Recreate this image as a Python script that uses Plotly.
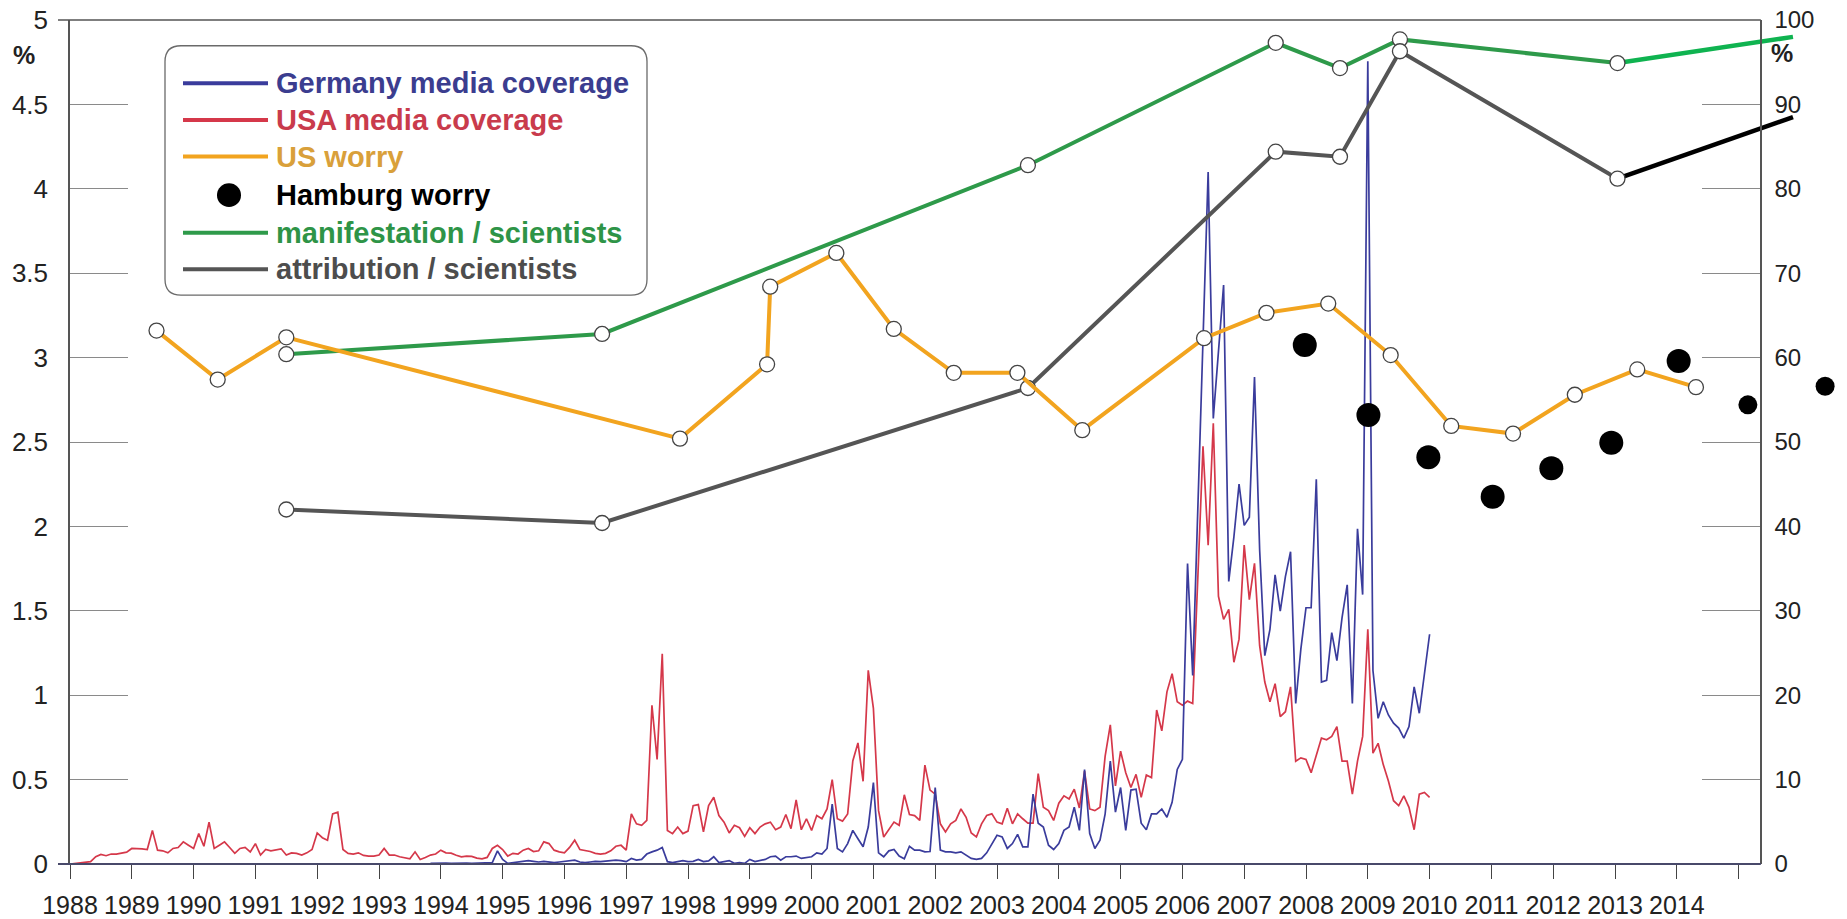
import plotly.graph_objects as go

# ---------------- data ----------------
year_ticks = list(range(1988, 2016))
year_labels = [str(y) for y in range(1988, 2015)] + [""]
left_ticks = [0, 0.5, 1, 1.5, 2, 2.5, 3, 3.5, 4, 4.5, 5]
left_labels = ["0", "0.5", "1", "1.5", "2", "2.5", "3", "3.5", "4", "4.5", "5"]
right_ticks = [0, 10, 20, 30, 40, 50, 60, 70, 80, 90, 100]

# monthly media coverage (% of articles), USA from January 1988
usa_start_year, usa_start_month = 1988, 1
usa_coverage = [
    0.0, 0.004, 0.008, 0.012, 0.014, 0.043, 0.057, 0.049, 0.059, 0.059, 0.063, 0.070,
    0.092, 0.092, 0.090, 0.086, 0.199, 0.082, 0.078, 0.066, 0.092, 0.098, 0.131, 0.111,
    0.092, 0.180, 0.105, 0.248, 0.092, 0.111, 0.131, 0.098, 0.063, 0.092, 0.098, 0.072,
    0.121, 0.053, 0.086, 0.078, 0.082, 0.090, 0.053, 0.066, 0.063, 0.053, 0.066, 0.086,
    0.184, 0.156, 0.141, 0.297, 0.307, 0.086, 0.063, 0.059, 0.066, 0.051, 0.047, 0.047,
    0.053, 0.092, 0.053, 0.053, 0.043, 0.039, 0.031, 0.072, 0.027, 0.039, 0.053, 0.059,
    0.082, 0.066, 0.064, 0.052, 0.042, 0.047, 0.045, 0.035, 0.031, 0.039, 0.092, 0.111,
    0.086, 0.047, 0.063, 0.059, 0.082, 0.092, 0.074, 0.078, 0.131, 0.121, 0.082, 0.072,
    0.066, 0.098, 0.141, 0.086, 0.082, 0.074, 0.063, 0.059, 0.063, 0.078, 0.105, 0.111,
    0.082, 0.297, 0.238, 0.229, 0.258, 0.940, 0.620, 1.245, 0.199, 0.180, 0.219, 0.180,
    0.195, 0.346, 0.352, 0.190, 0.346, 0.395, 0.287, 0.248, 0.184, 0.229, 0.215, 0.164,
    0.215, 0.180, 0.219, 0.238, 0.248, 0.203, 0.219, 0.293, 0.209, 0.379, 0.203, 0.268,
    0.199, 0.287, 0.268, 0.326, 0.500, 0.268, 0.254, 0.297, 0.610, 0.717, 0.490, 1.147,
    0.922, 0.316, 0.160, 0.203, 0.248, 0.229, 0.410, 0.293, 0.287, 0.258, 0.586, 0.438,
    0.414, 0.238, 0.190, 0.238, 0.258, 0.326, 0.277, 0.184, 0.160, 0.238, 0.287, 0.297,
    0.248, 0.238, 0.330, 0.238, 0.297, 0.268, 0.242, 0.242, 0.535, 0.336, 0.316, 0.258,
    0.360, 0.404, 0.385, 0.443, 0.332, 0.550, 0.326, 0.316, 0.336, 0.639, 0.824, 0.463,
    0.668, 0.541, 0.453, 0.531, 0.395, 0.527, 0.512, 0.912, 0.789, 1.020, 1.127, 0.961,
    0.941, 0.965, 0.951, 1.700, 2.475, 1.889, 2.611, 1.586, 1.449, 1.508, 1.195, 1.332,
    1.889, 1.566, 1.781, 1.293, 1.078, 0.961, 1.068, 0.873, 0.902, 1.049, 0.609, 0.629,
    0.619, 0.541, 0.648, 0.746, 0.736, 0.756, 0.814, 0.609, 0.609, 0.414, 0.609, 0.756,
    1.390, 0.657, 0.715, 0.589, 0.492, 0.375, 0.346, 0.404, 0.336, 0.203, 0.414, 0.424,
    0.395,
]

# monthly media coverage (% of articles), Germany from November 1993
germany_start_year, germany_start_month = 1993, 11
germany_coverage = [
    0.004, 0.006,
    0.008, 0.006, 0.004, 0.006, 0.004, 0.006, 0.004, 0.006, 0.004, 0.008, 0.008, 0.078,
    0.027, 0.004, 0.008, 0.012, 0.016, 0.020, 0.016, 0.012, 0.016, 0.014, 0.008, 0.012,
    0.016, 0.020, 0.023, 0.012, 0.008, 0.012, 0.016, 0.014, 0.018, 0.020, 0.023, 0.020,
    0.014, 0.033, 0.023, 0.027, 0.059, 0.072, 0.082, 0.098, 0.014, 0.008, 0.016, 0.020,
    0.014, 0.016, 0.027, 0.014, 0.018, 0.043, 0.008, 0.014, 0.020, 0.004, 0.008, 0.004,
    0.027, 0.014, 0.020, 0.027, 0.043, 0.047, 0.023, 0.043, 0.043, 0.047, 0.033, 0.039,
    0.043, 0.066, 0.059, 0.092, 0.355, 0.092, 0.072, 0.121, 0.199, 0.150, 0.102, 0.219,
    0.482, 0.066, 0.043, 0.078, 0.086, 0.047, 0.031, 0.105, 0.082, 0.082, 0.072, 0.074,
    0.453, 0.082, 0.072, 0.072, 0.066, 0.072, 0.053, 0.033, 0.027, 0.033, 0.066, 0.121,
    0.170, 0.160, 0.092, 0.121, 0.176, 0.102, 0.102, 0.414, 0.242, 0.219, 0.111, 0.086,
    0.121, 0.199, 0.219, 0.336, 0.199, 0.560, 0.180, 0.092, 0.141, 0.297, 0.610, 0.307,
    0.453, 0.199, 0.438, 0.443, 0.242, 0.203, 0.297, 0.297, 0.326, 0.277, 0.365, 0.560,
    0.620, 1.780, 1.117, 2.110, 3.100, 4.100, 2.640, 3.060, 3.430, 1.674, 1.938, 2.250,
    2.006, 2.055, 2.885, 1.860, 1.234, 1.390, 1.713, 1.498, 1.703, 1.850, 0.951, 1.273,
    1.518, 1.518, 2.279, 1.078, 1.088, 1.371, 1.205, 1.459, 1.654, 0.951, 1.986, 1.596,
    4.755, 1.146, 0.863, 0.961, 0.883, 0.834, 0.805, 0.746, 0.814, 1.049, 0.893, 1.127,
    1.361,
]

# survey results (%), right axis
us_worry_years = [1989.40, 1990.39, 1991.50, 1997.87, 1999.28, 1999.33, 2000.40, 2001.33,
                  2002.30, 2003.33, 2004.38, 2006.35, 2007.36, 2008.36, 2009.37, 2010.35,
                  2011.35, 2012.35, 2013.36, 2014.31]
us_worry = [63.2, 57.4, 62.4, 50.4, 59.2, 68.4, 72.4, 63.4, 58.2, 58.2, 51.4, 62.3, 65.3,
            66.4, 60.3, 51.9, 51.0, 55.6, 58.6, 56.5]

hamburg_years = [2007.98, 2009.01, 2009.98, 2011.02, 2011.97, 2012.94, 2014.03, 2015.15, 2016.40]
hamburg_worry = [61.5, 53.2, 48.2, 43.5, 46.9, 49.9, 59.6, 54.4, 56.6]

scientist_years = [1991.50, 1996.61, 2003.50, 2007.51, 2008.55, 2009.52, 2013.04]
manifestation = [60.4, 62.8, 82.8, 97.3, 94.3, 97.7, 94.9]
attribution = [42.0, 40.4, 56.4, 84.4, 83.8, 96.3, 81.2]
trend_years = [2013.04, 2015.88]
manifestation_trend = [94.9, 98.0]
attribution_trend = [81.2, 88.5]

# ---------------- geometry ----------------
W, H = 1847, 919
M_L, M_R, M_T, M_B = 70, 0, 20, 46
PLOT_W = W - M_L - M_R
PLOT_H = H - M_T - M_B
PX_PER_YEAR = 61.8
X_MIN = 1988
X_MAX = X_MIN + PLOT_W / PX_PER_YEAR
RIGHT_AXIS_YEAR = 2015.36
RIGHT_AXIS_POS = (RIGHT_AXIS_YEAR - X_MIN) / (X_MAX - X_MIN)


def px_x(px):
    return (px - M_L) / PLOT_W


def px_y(py):
    return (H - M_B - py) / PLOT_H


def month_axis(start_year, start_month, n):
    return [start_year + (start_month - 1 + k) / 12 for k in range(n)]


usa_x = month_axis(usa_start_year, usa_start_month, len(usa_coverage))
germany_x = month_axis(germany_start_year, germany_start_month, len(germany_coverage))

BLUE = "#3a3c9c"
RED = "#d5384a"
ORANGE = "#f2a41f"
GREEN = "#2e9a4a"
GREEN_BRIGHT = "#0fb350"
GREY = "#555555"
FONT = "Liberation Sans, Arial, sans-serif"

open_marker = dict(symbol="circle", size=15, color="white", line=dict(color="#444444", width=1.3))

fig = go.Figure()

# media coverage (left axis)
fig.add_trace(go.Scatter(x=usa_x, y=usa_coverage, mode="lines", name="USA media coverage",
                         line=dict(color=RED, width=1.7), yaxis="y"))
fig.add_trace(go.Scatter(x=germany_x, y=germany_coverage, mode="lines", name="Germany media coverage",
                         line=dict(color=BLUE, width=1.7), yaxis="y"))

# survey series (right axis)
fig.add_trace(go.Scatter(x=trend_years, y=manifestation_trend, mode="lines",
                         line=dict(color=GREEN_BRIGHT, width=4.5), yaxis="y2"))
fig.add_trace(go.Scatter(x=trend_years, y=attribution_trend, mode="lines",
                         line=dict(color="black", width=4.5), yaxis="y2"))
fig.add_trace(go.Scatter(x=scientist_years, y=manifestation, mode="lines+markers",
                         name="manifestation / scientists",
                         line=dict(color=GREEN, width=4), marker=open_marker, yaxis="y2"))
fig.add_trace(go.Scatter(x=scientist_years, y=attribution, mode="lines+markers",
                         name="attribution / scientists",
                         line=dict(color=GREY, width=4), marker=open_marker, yaxis="y2"))
fig.add_trace(go.Scatter(x=us_worry_years, y=us_worry, mode="lines+markers", name="US worry",
                         line=dict(color=ORANGE, width=4), marker=open_marker, yaxis="y2"))
fig.add_trace(go.Scatter(x=hamburg_years, y=hamburg_worry, mode="markers", name="Hamburg worry",
                         marker=dict(color="black", opacity=1, size=[24] * 7 + [19, 19],
                                     line=dict(width=0)),
                         cliponaxis=False, yaxis="y2"))

# ---------------- frame lines ----------------
shapes = [
    dict(type="line", xref="paper", yref="paper", x0=px_x(58), x1=RIGHT_AXIS_POS, y0=0, y1=0,
         line=dict(color="#48496a", width=2), layer="above"),
    dict(type="line", xref="paper", yref="paper", x0=px_x(58), x1=RIGHT_AXIS_POS, y0=1, y1=1,
         line=dict(color="#555555", width=1.5), layer="above"),
]

# ---------------- legend box ----------------
bx0, bx1 = px_x(165), px_x(647)
by0, by1 = px_y(298), px_y(46)
rx, ry = 16 / PLOT_W, 16 / PLOT_H
box_path = (f"M {bx0 + rx},{by1} L {bx1 - rx},{by1} Q {bx1},{by1} {bx1},{by1 - ry} "
            f"L {bx1},{by0 + ry} Q {bx1},{by0} {bx1 - rx},{by0} L {bx0 + rx},{by0} "
            f"Q {bx0},{by0} {bx0},{by0 + ry} L {bx0},{by1 - ry} Q {bx0},{by1} {bx0 + rx},{by1} Z")
shapes.append(dict(type="path", xref="paper", yref="paper", path=box_path,
                   line=dict(color="#6a6a6a", width=1.3), fillcolor="rgba(0,0,0,0)"))

legend_rows = [
    ("Germany media coverage", "#3b3d8f", "line", BLUE),
    ("USA media coverage", "#c93b4c", "line", RED),
    ("US worry", "#d9a03a", "line", ORANGE),
    ("Hamburg worry", "#000000", "dot", "black"),
    ("manifestation / scientists", "#2e9447", "line", GREEN),
    ("attribution / scientists", "#4d4d4d", "line", GREY),
]
row_y = [84, 121, 158, 197, 235, 272]
annotations = []
for (label, tcolor, kind, mcolor), ry_px in zip(legend_rows, row_y):
    if kind == "line":
        shapes.append(dict(type="line", xref="paper", yref="paper",
                           x0=px_x(183), x1=px_x(268), y0=px_y(ry_px), y1=px_y(ry_px),
                           line=dict(color=mcolor, width=4)))
    else:
        shapes.append(dict(type="circle", xref="paper", yref="paper",
                           x0=px_x(229 - 12), x1=px_x(229 + 12),
                           y0=px_y(ry_px + 12), y1=px_y(ry_px - 12),
                           fillcolor=mcolor, line=dict(color=mcolor, width=0)))
    annotations.append(dict(xref="paper", yref="paper", x=px_x(274), y=px_y(ry_px),
                            xanchor="left", yanchor="middle", showarrow=False, text=label,
                            font=dict(family=FONT, size=29, color=tcolor, weight="bold")))

# unit labels
annotations.append(dict(xref="paper", yref="paper", x=px_x(24), y=px_y(55), showarrow=False,
                        text="%", xanchor="center", yanchor="middle",
                        font=dict(family=FONT, size=25, color="#222222", weight="bold")))
annotations.append(dict(xref="paper", yref="paper", x=px_x(1782), y=px_y(53), showarrow=False,
                        text="%", xanchor="center", yanchor="middle",
                        font=dict(family=FONT, size=25, color="#222222", weight="bold")))

fig.update_layout(
    width=W, height=H,
    margin=dict(l=M_L, r=M_R, t=M_T, b=M_B),
    paper_bgcolor="white", plot_bgcolor="white",
    showlegend=False,
    shapes=shapes,
    annotations=annotations,
    xaxis=dict(
        range=[X_MIN, X_MAX], domain=[0, 1],
        tickmode="array", tickvals=year_ticks, ticktext=year_labels,
        ticks="outside", ticklen=14, tickwidth=1.3, tickcolor="#444444",
        tickangle=0, showline=False, showgrid=False, zeroline=False,
        ticklabelstandoff=5,
        tickfont=dict(family=FONT, size=25, color="#222222"),
    ),
    yaxis=dict(
        range=[0, 5], tickmode="array", tickvals=left_ticks, ticktext=left_labels,
        ticks="inside", ticklen=58, tickwidth=1.3, tickcolor="#8a8a8a",
        showline=True, linecolor="#555555", linewidth=1.5,
        showgrid=False, zeroline=False, ticklabelstandoff=15,
        tickfont=dict(family=FONT, size=26, color="#222222"),
    ),
    yaxis3=dict(
        range=[0, 5], overlaying="y", side="left", anchor="x",
        tickmode="array", tickvals=left_ticks, ticks="outside", ticklen=12,
        tickwidth=1.3, tickcolor="#8a8a8a", showticklabels=False,
        showline=False, showgrid=False, zeroline=False,
    ),
    yaxis2=dict(
        range=[0, 100], overlaying="y", side="right", anchor="free",
        position=RIGHT_AXIS_POS,
        tickmode="array", tickvals=right_ticks,
        ticks="inside", ticklen=58, tickwidth=1.3, tickcolor="#8a8a8a",
        showline=True, linecolor="#555555", linewidth=1.5,
        showgrid=False, zeroline=False, ticklabelstandoff=8,
        tickfont=dict(family=FONT, size=24, color="#222222"),
    ),
)

fig.write_html("out.html")
